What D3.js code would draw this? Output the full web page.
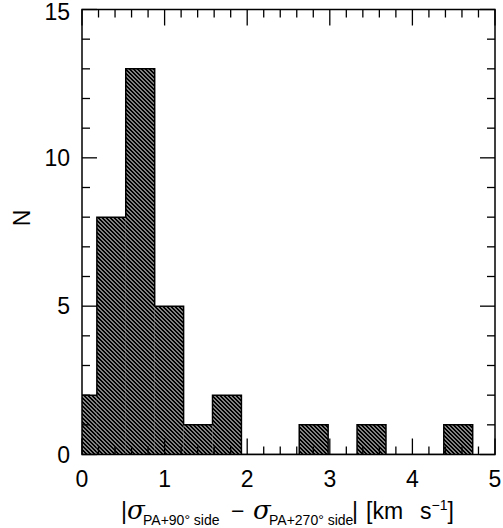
<!DOCTYPE html>
<html>
<head>
<meta charset="utf-8">
<script src="https://d3js.org/d3.v7.min.js"></script>
<style>
	body { margin:0; background:#fff; }
	text { font-family:"Liberation Sans", Arial, sans-serif; fill:#000; }
	.frame { fill:none; stroke:#000; stroke-width:1.5; }
	.tick-line { stroke:#000; stroke-width:1.3; }
	.outline { fill:none; stroke:#000; stroke-width:1.5; }
	.greek { font-style:italic; font-family:"DejaVu Serif", serif; font-size:26px; }
	.sub { font-size:14px; }
</style>
</head>
<body>
<div id="chart"></div>
<script>
// histogram bins: left edges, width and counts (first bin is clipped at 0)
var binEdges = [-0.17, 0.18, 0.53, 0.88, 1.23, 1.58, 1.93, 2.28, 2.63, 2.98, 3.33, 3.68, 4.03, 4.38];
var binWidth = 0.35;
var counts   = [2, 8, 13, 5, 1, 2, 0, 0, 1, 0, 1, 0, 0, 1];

var xMajor = [0, 1, 2, 3, 4, 5];
var yMajor = [0, 5, 10, 15];

var W = 503, H = 528;
var margin = {top: 9.5, right: 8, bottom: 73.5, left: 82};
var width = W - margin.left - margin.right,
	height = H - margin.top - margin.bottom;

var svg = d3.select("#chart").append("svg")
	.attr("width", W).attr("height", H);

var defs = svg.append("defs");
var pat = defs.append("pattern")
	.attr("id", "hatch")
	.attr("patternUnits", "userSpaceOnUse")
	.attr("width", 4).attr("height", 4);
pat.append("path")
	.attr("d", "M-1,-1 L5,5 M-1,3 L1,5 M3,-1 L5,1")
	.attr("stroke", "#000").attr("stroke-width", 1.5)
	.attr("shape-rendering", "crispEdges");

defs.append("clipPath").attr("id", "plotclip")
	.append("rect").attr("width", width).attr("height", height);

var g = svg.append("g")
	.attr("transform", "translate(" + margin.left + "," + margin.top + ")");

var x = d3.scaleLinear().domain([0, 5]).range([0, width]);
var y = d3.scaleLinear().domain([0, 15]).range([height, 0]);

var bins = binEdges.map(function(e, i) { return {x0: e, x1: e + binWidth, n: counts[i]}; });

var plot = g.append("g").attr("clip-path", "url(#plotclip)");

plot.selectAll(".bar")
	.data(bins.filter(function(d) { return d.n > 0; }))
	.enter().append("rect")
	.attr("class", "bar")
	.attr("x", function(d) { return x(d.x0); })
	.attr("width", function(d) { return x(d.x1) - x(d.x0); })
	.attr("y", function(d) { return y(d.n); })
	.attr("height", function(d) { return y(0) - y(d.n); })
	.attr("fill", "url(#hatch)");

// step outline of the histogram
var steps = [];
bins.forEach(function(d) {
	steps.push([d.x0, d.n]);
	steps.push([d.x1, d.n]);
});
steps.unshift([bins[0].x0, 0]);
steps.push([bins[bins.length - 1].x1, 0]);
var line = d3.line()
	.x(function(d) { return x(d[0]); })
	.y(function(d) { return y(d[1]); });
plot.append("path").attr("class", "outline").attr("d", line(steps));

// ticks on all four sides, pointing inwards
var xMinor = d3.range(0, 5.001, 0.2).filter(function(v) { return Math.abs(v - Math.round(v)) > 1e-6; });
var yMinor = d3.range(0, 15.001, 1).filter(function(v) { return v % 5 !== 0; });

function xTicks(vals, len) {
	vals.forEach(function(v) {
		g.append("line").attr("class", "tick-line")
			.attr("x1", x(v)).attr("x2", x(v))
			.attr("y1", height).attr("y2", height - len);
		g.append("line").attr("class", "tick-line")
			.attr("x1", x(v)).attr("x2", x(v))
			.attr("y1", 0).attr("y2", len);
	});
}
function yTicks(vals, len) {
	vals.forEach(function(v) {
		g.append("line").attr("class", "tick-line")
			.attr("y1", y(v)).attr("y2", y(v))
			.attr("x1", 0).attr("x2", len);
		g.append("line").attr("class", "tick-line")
			.attr("y1", y(v)).attr("y2", y(v))
			.attr("x1", width).attr("x2", width - len);
	});
}
xTicks(xMinor, 8);
xTicks(xMajor, 16);
yTicks(yMinor, 8);
yTicks(yMajor, 15);

g.append("rect").attr("class", "frame")
	.attr("width", width).attr("height", height);

// tick labels
g.selectAll(".xlab").data(xMajor).enter().append("text")
	.attr("x", function(d) { return x(d); })
	.attr("y", height + 32)
	.attr("text-anchor", "middle")
	.style("font-size", "23px")
	.text(function(d) { return d; });

g.selectAll(".ylab").data(yMajor).enter().append("text")
	.attr("x", -12)
	.attr("y", function(d) { return Math.max(y(d) + 8, 10); })
	.attr("text-anchor", "end")
	.style("font-size", "23px")
	.text(function(d) { return d; });

// axis titles
svg.append("text")
	.attr("transform", "translate(30," + (margin.top + height / 2 - 14) + ") rotate(-90)")
	.attr("text-anchor", "middle")
	.style("font-size", "23px")
	.text("N");

var xt = svg.append("text")
	.attr("x", 121).attr("y", 519)
	.style("font-size", "23px");
xt.append("tspan").text("|");
xt.append("tspan").attr("x", 127).attr("class", "greek").text("σ");
xt.append("tspan").attr("x", 143).attr("dy", 6).attr("class", "sub").text("PA+90° side");
xt.append("tspan").attr("x", 231).attr("dy", -6).text("−");
xt.append("tspan").attr("x", 253).attr("class", "greek").text("σ");
xt.append("tspan").attr("x", 269).attr("dy", 6).attr("class", "sub").text("PA+270° side");
xt.append("tspan").attr("x", 352).attr("dy", -6).text("|");
xt.append("tspan").attr("x", 366).text("[km");
xt.append("tspan").attr("x", 420).text("s");
xt.append("tspan").attr("dy", -9).attr("class", "sub").text("−1");
xt.append("tspan").attr("dy", 9).text("]");
</script>
</body>
</html>
